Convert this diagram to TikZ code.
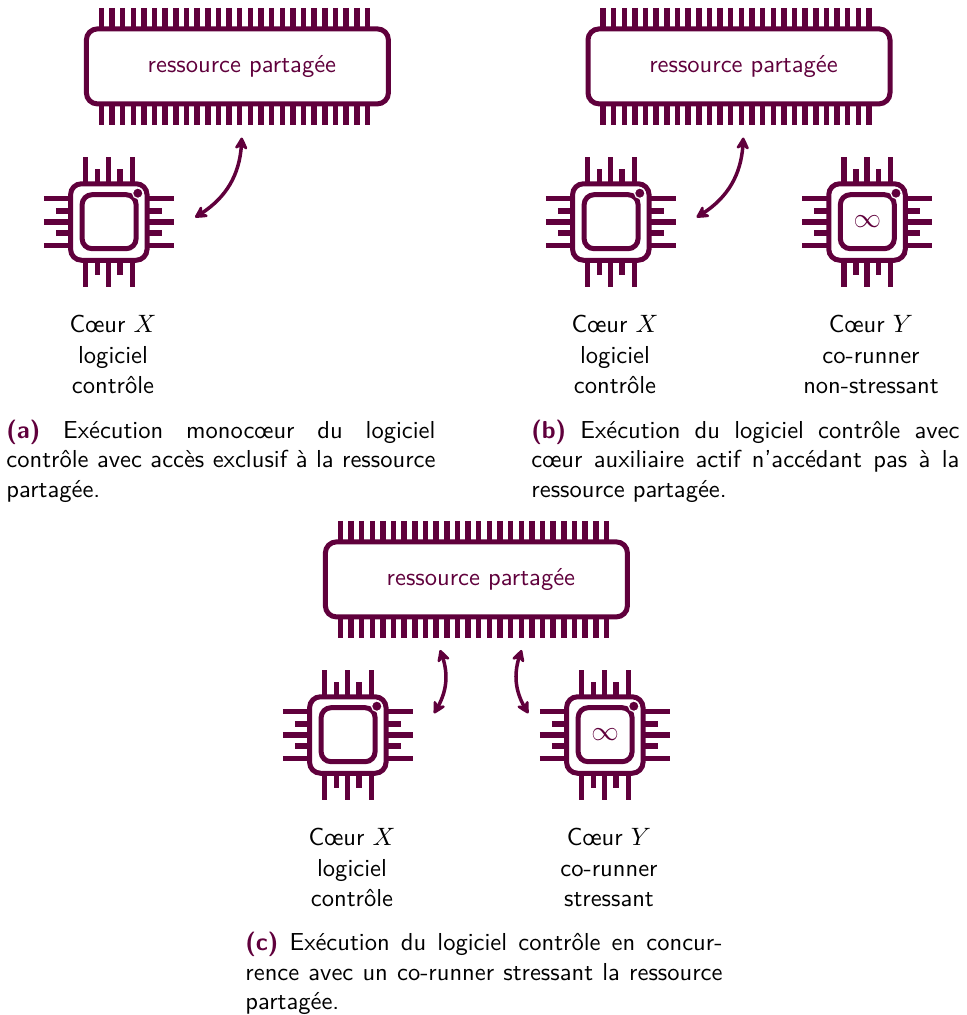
\documentclass[tikz,border=0pt]{standalone}
\usetikzlibrary{arrows.meta,bending}
\definecolor{plum}{HTML}{60003C}
\newcommand{\pxu}{0.436pt}
\newcommand{\bodyfont}[1]{\sffamily\fontsize{10.7}{#1}\selectfont}
\tikzset{
  pin/.style={draw=plum,line width=5.5*\pxu},
  pinthin/.style={draw=plum,line width=5.2*\pxu},
  resbox/.style={draw=plum,line width=5*\pxu,rounded corners=11*\pxu,fill=white,minimum width=302*\pxu,minimum height=75*\pxu,inner sep=0pt},
  reslabel/.style={text=plum,font=\bodyfont{13},inner sep=0pt},
  chipbox/.style={draw=plum,line width=5*\pxu,rounded corners=11*\pxu,fill=white,minimum size=76.5*\pxu,inner sep=0pt},
  corebox/.style={draw=plum,line width=5*\pxu,rounded corners=10*\pxu,fill=white,minimum size=54*\pxu,inner sep=0pt,text=plum,font=\fontsize{12}{14}\selectfont},
  chipdot/.style={circle,fill=plum,draw=white,line width=1.2*\pxu,minimum size=10.5*\pxu,inner sep=0pt},
  corelabel/.style={font=\bodyfont{13.1},align=center,inner sep=0pt,text=black},
  captext/.style={font=\bodyfont{12.7},align=justify,inner sep=0pt,anchor=north west,text=black},
  link/.style={draw=plum,line width=3.5*\pxu,{Stealth[round,length=15*\pxu,width=16*\pxu,inset=5*\pxu,bend]}-{Stealth[round,length=15*\pxu,width=16*\pxu,inset=5*\pxu,bend]}},
  resource/.pic={
    \foreach \k in {0,...,25}{
      \draw[pin] ({-136+\k*10.64},-58.5) -- ({-136+\k*10.64},-37);
      \draw[pin] ({-136+\k*10.64},37) -- ({-136+\k*10.64},58.5);
    }
    \node[resbox] (-box) at (0,0) {};
    \node[reslabel] (-label) at (4.5,0) {ressource partag\'ee};
  },
  chip/.pic={
    \foreach \p in {-23.1,0,23.3}{
      \draw[pinthin] (\p,-65) -- (\p,-40);
      \draw[pinthin] (\p,40) -- (\p,64.5);
    }
    \foreach \p in {-11,11.2}{
      \draw[pinthin] (\p,-53) -- (\p,-40);
      \draw[pinthin] (\p,40) -- (\p,52.5);
    }
    \foreach \p in {-23.3,0,23.3}{
      \draw[pinthin] (-65,\p) -- (-40,\p);
      \draw[pinthin] (40,\p) -- (65,\p);
    }
    \foreach \p in {-11,11}{
      \draw[pinthin] (-53,\p) -- (-40,\p);
      \draw[pinthin] (40,\p) -- (53,\p);
    }
    \node[chipbox] (-box) at (0,0) {};
    \node[corebox] (-core) at (0.3,-0.3) {#1};
    \node[chipdot] (-dot) at (29,-28.8) {};
  },
}
\begin{document}
\begin{tikzpicture}[x=\pxu,y=-\pxu]
\useasboundingbox (0,0) rectangle (967,1015);

% (a)
\pic (ra) at (237.4,66.4) {resource};
\pic (xa) at (108.8,222) {chip={}};
\node[corelabel] (la) at (113,354.5) {C\oe ur $X$\\logiciel\\contr\^ole};
\node[captext,text width=429*\pxu] (ca) at (6,420) {\textcolor{plum}{\textbf{(a)}} Ex\'ecution monoc\oe ur du logiciel\linebreak contr\^ole avec acc\`es exclusif \`a la ressource\linebreak partag\'ee.};
\coordinate (aa) at (241.7,137.5);
\coordinate (ab) at (195,217.3);
\draw[link] (aa) to[bend left=30] (ab);

% (b)
\pic (rb) at (739,66.4) {resource};
\pic (xb) at (610.8,222) {chip={}};
\pic (yb) at (867,222) {chip={$\infty$}};
\node[corelabel] (lbx) at (615,354.5) {C\oe ur $X$\\logiciel\\contr\^ole};
\node[corelabel] (lby) at (871,354.5) {C\oe ur $Y$\\co-runner\\non-stressant};
\node[captext,text width=428*\pxu] (cb) at (531,420) {\textcolor{plum}{\textbf{(b)}} Ex\'ecution du logiciel contr\^ole avec\linebreak c\oe ur auxiliaire actif n'acc\'edant pas \`a la\linebreak ressource partag\'ee.};
\coordinate (ba) at (743.2,137.5);
\coordinate (bb) at (696.5,217.3);
\draw[link] (ba) to[bend left=30] (bb);

% (c)
\pic (rc) at (476.4,579.4) {resource};
\pic (xc) at (347.8,735) {chip={}};
\pic (yc) at (604.8,735) {chip={$\infty$}};
\node[corelabel] (lcx) at (352,867.5) {C\oe ur $X$\\logiciel\\contr\^ole};
\node[corelabel] (lcy) at (609,867.5) {C\oe ur $Y$\\co-runner\\stressant};
\node[captext,text width=477*\pxu] (cc) at (245,932) {\textcolor{plum}{\textbf{(c)}} Ex\'ecution du logiciel contr\^ole en concur-\linebreak rence avec un co-runner stressant la ressource\linebreak partag\'ee.};
\coordinate (cxa) at (440,650);
\coordinate (cxb) at (434,713.3);
\coordinate (cya) at (521.7,650);
\coordinate (cyb) at (528.3,713.3);
\draw[link] (cxa) to[bend left=28] (cxb);
\draw[link] (cya) to[bend right=28] (cyb);
\end{tikzpicture}
\end{document}
